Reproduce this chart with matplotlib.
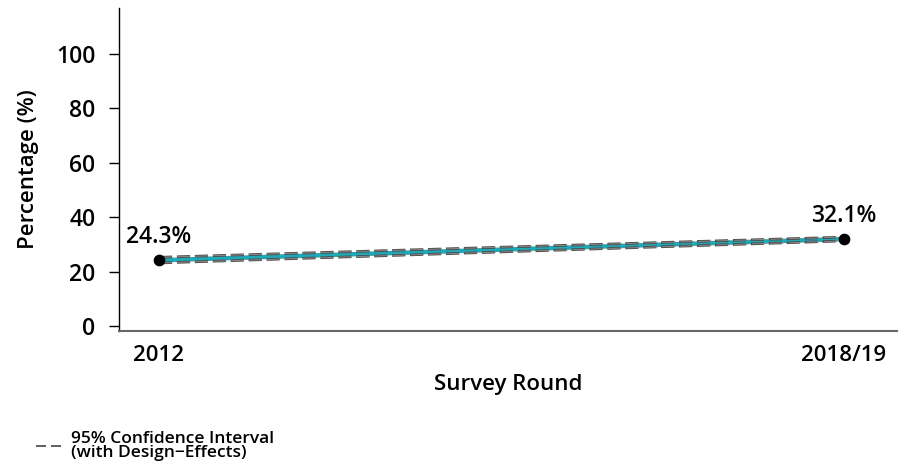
import matplotlib
matplotlib.use("Agg")
import matplotlib.pyplot as plt
from matplotlib.lines import Line2D
from matplotlib import font_manager as fm

rounds = ["2012", "2018/19"]
values = [24.3, 32.1]
ci_low = [23.3, 31.4]
ci_high = [25.4, 32.8]
yticks = [0, 20, 40, 60, 80, 100]

plt.rcParams['font.family'] = ['Open Sans', 'DejaVu Sans']
sb_path = None
for f in fm.fontManager.ttflist:
    if f.fname.endswith('OpenSans-Semibold.ttf'):
        sb_path = f.fname
        break

def fp(size):
    if sb_path:
        return fm.FontProperties(fname=sb_path, size=size)
    return fm.FontProperties(family='Open Sans', weight='semibold', size=size)

fig = plt.figure(figsize=(9.06, 4.66), dpi=100)
ax = fig.add_axes([0.1313, 0.290, 0.8587, 0.693])
x = list(range(len(rounds)))

teal = "#1fa9b7"
ax.plot(x, values, color=teal, lw=3.2, solid_capstyle='butt', zorder=2)
for ci in (ci_low, ci_high):
    ax.plot(x, ci, color="#4a4a4a", lw=1.9, ls=(0, (5, 1.8)), zorder=3)
    ax.plot(x, ci, color="#8a8a8a", lw=0.7, ls=(0, (13.6, 4.9)), zorder=3)
ax.scatter(x, values, color="black", s=55, zorder=4)
for xi, v in zip(x, values):
    ax.annotate(f"{v}%", (xi, v), xytext=(0, 8), textcoords='offset points',
                ha='center', va='bottom', fontproperties=fp(16.5))

ax.set_xlim(-0.0584, 1.0774)
ax.set_ylim(-1.6, 116.9)
ax.set_yticks(yticks)
ax.set_xticks(x)
ax.set_xticklabels(rounds)
for s in ("top", "right"):
    ax.spines[s].set_visible(False)
ax.spines['left'].set_linewidth(1.0)
ax.spines['bottom'].set_color("#666666")
ax.spines['bottom'].set_linewidth(1.5)
ax.tick_params(axis='x', length=0, pad=10)
ax.tick_params(axis='y', length=7, pad=10, width=1.0)
for lab in ax.get_xticklabels():
    lab.set_fontproperties(fp(16))
for lab in ax.get_yticklabels():
    lab.set_fontproperties(fp(16.5))
ax.set_xlabel("Survey Round", fontproperties=fp(16), labelpad=6)
ax.set_ylabel("Percentage (%)", fontproperties=fp(16), labelpad=12)

h = Line2D([], [], color="#444444", lw=1.2, ls=(0, (6, 3)))
leg = fig.legend([h], ["95% Confidence Interval\n(with Design\u2212Effects)"],
                 loc='lower left', bbox_to_anchor=(0.028, -0.012), frameon=False,
                 prop=fp(12.5), handlelength=1.55, handletextpad=0.45, borderpad=0.1)
for t in leg.get_texts():
    t.set_linespacing(0.85)

fig.savefig("out.png", dpi=100)
